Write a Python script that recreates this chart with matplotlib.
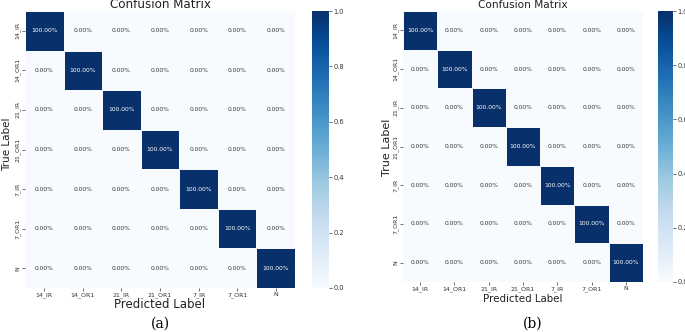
import numpy as np
import matplotlib
matplotlib.use("Agg")
import matplotlib.pyplot as plt
from matplotlib.colors import Normalize

labels = ['14_IR', '14_OR1', '21_IR', '21_OR1', '7_IR', '7_OR1', 'N']
cm_a = [
    [1.0, 0.0, 0.0, 0.0, 0.0, 0.0, 0.0],
    [0.0, 1.0, 0.0, 0.0, 0.0, 0.0, 0.0],
    [0.0, 0.0, 1.0, 0.0, 0.0, 0.0, 0.0],
    [0.0, 0.0, 0.0, 1.0, 0.0, 0.0, 0.0],
    [0.0, 0.0, 0.0, 0.0, 1.0, 0.0, 0.0],
    [0.0, 0.0, 0.0, 0.0, 0.0, 1.0, 0.0],
    [0.0, 0.0, 0.0, 0.0, 0.0, 0.0, 1.0],
]
cm_b = [
    [1.0, 0.0, 0.0, 0.0, 0.0, 0.0, 0.0],
    [0.0, 1.0, 0.0, 0.0, 0.0, 0.0, 0.0],
    [0.0, 0.0, 1.0, 0.0, 0.0, 0.0, 0.0],
    [0.0, 0.0, 0.0, 1.0, 0.0, 0.0, 0.0],
    [0.0, 0.0, 0.0, 0.0, 1.0, 0.0, 0.0],
    [0.0, 0.0, 0.0, 0.0, 0.0, 1.0, 0.0],
    [0.0, 0.0, 0.0, 0.0, 0.0, 0.0, 1.0],
]
cbar_ticks = [0.0, 0.2, 0.4, 0.6, 0.8, 1.0]
captions = ['(a)', '(b)']
title = 'Confusion Matrix'
xlabel = 'Predicted Label'
ylabel = 'True Label'

W, H = 685, 332
fig = plt.figure(figsize=(W / 100, H / 100), dpi=100)

def fr(x0, y0, x1, y1):
    return [x0 / W, 1 - y1 / H, (x1 - x0) / W, (y1 - y0) / H]

def ftext(x, y, s, **kw):
    fig.text(x / W, 1 - y / H, s, **kw)

cmap = plt.get_cmap('Blues')
norm = Normalize(0, 1)
TXT = '#222222'

def draw(cm, ax_box, cb_box, title_pos, title_fs, xl_pos, xl_fs, yl_pos, yl_fs, cap_xy, caption):
    data = np.array(cm)
    ax = fig.add_axes(fr(*ax_box))
    n = data.shape[0]
    mesh = ax.pcolormesh(np.arange(n + 1), np.arange(n + 1), data, cmap=cmap, norm=norm,
                         edgecolors=cmap(0.0), linewidth=0.6)
    ax.set_xlim(0, n)
    ax.set_ylim(n, 0)
    for i in range(n):
        for j in range(n):
            v = data[i, j]
            ax.text(j + 0.5, i + 0.5, f"{v*100:.2f}%", ha='center', va='center',
                    fontsize=4.3, color='white' if v > 0.5 else '#333333')
    ax.set_xticks(np.arange(n) + 0.5)
    ax.set_xticklabels(labels, fontsize=4.5, color='#333333')
    ax.set_yticks(np.arange(n) + 0.5)
    ax.set_yticklabels(labels, fontsize=4.5, rotation=90, va='center', color='#333333')
    ax.tick_params(length=2, width=0.5, pad=1, colors='#333333')
    for s in ax.spines.values():
        s.set_visible(False)
    ftext(title_pos[0], title_pos[1], title, ha='center', va='baseline',
          fontsize=title_fs, color=TXT)
    ftext(xl_pos[0], xl_pos[1], xlabel, ha='center', va='center', fontsize=xl_fs, color=TXT)
    ftext(yl_pos[0], yl_pos[1], ylabel, ha='center', va='center', fontsize=yl_fs,
          rotation=90, color=TXT)
    cax = fig.add_axes(fr(*cb_box))
    cb = fig.colorbar(mesh, cax=cax, ticks=cbar_ticks)
    cb.outline.set_visible(False)
    cb.ax.tick_params(labelsize=4.8, length=2, width=0.5, pad=1, colors='#333333')
    ftext(cap_xy[0], cap_xy[1], caption, ha='center', va='center',
          fontsize=10, family='DejaVu Serif')

draw(cm_a, (25, 11, 295, 288), (312, 11, 329, 288), (160, 8), 8.6,
     (160, 305), 8.5, (7, 144), 7.5, (160, 324), captions[0])
draw(cm_b, (403, 11, 643, 282), (658, 11, 673, 282), (523, 8), 7.6,
     (523, 299), 7.4, (387, 147), 8.0, (533, 324), captions[1])

fig.savefig('out.png', dpi=100)
